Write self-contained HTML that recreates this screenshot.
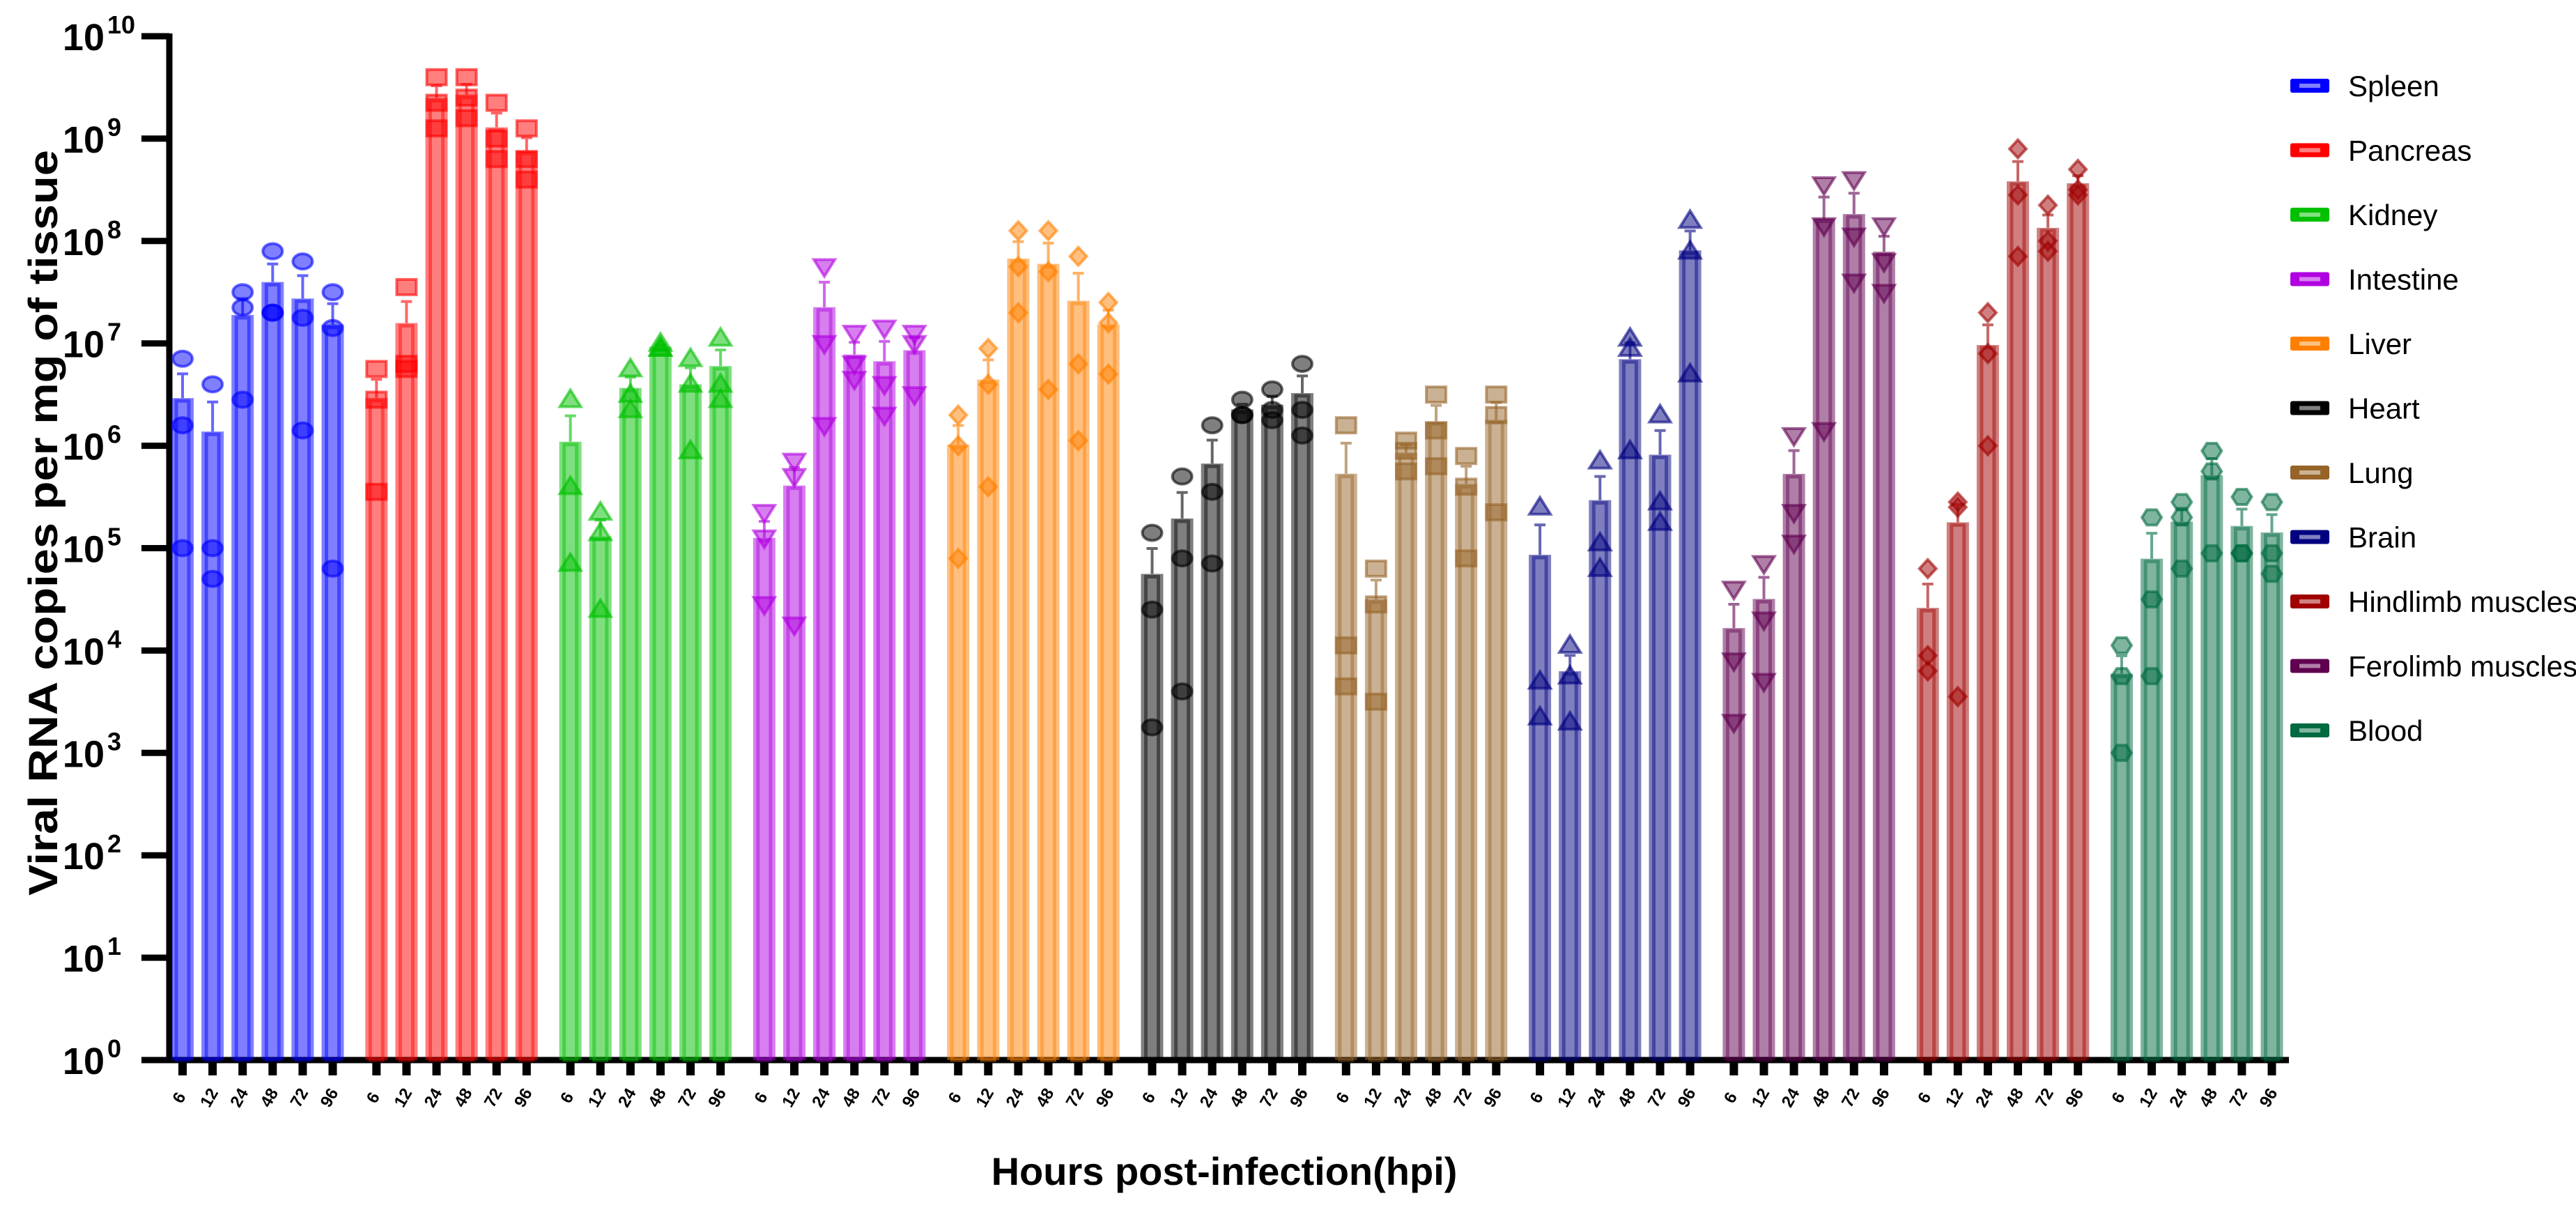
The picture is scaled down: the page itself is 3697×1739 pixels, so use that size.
<!DOCTYPE html>
<html><head><meta charset="utf-8"><style>
html,body{margin:0;padding:0;background:#fff;}
svg{display:block;font-family:"Liberation Sans",sans-serif;}
</style></head><body>
<svg id="chart" width="3697" height="1739" viewBox="0 0 3697 1739" xmlns="http://www.w3.org/2000/svg">
<g id="axes"></g>
<g id="bars"></g>
<g id="legend"></g>
<text x="1757" y="1700" text-anchor="middle" font-size="56" font-weight="bold">Hours post-infection(hpi)</text>
<text transform="translate(82,750) rotate(-90)" text-anchor="middle" font-size="58" font-weight="bold" textLength="1070" lengthAdjust="spacingAndGlyphs">Viral RNA copies per mg of tissue</text>
</svg>
<script>
const tissues = ["Spleen","Pancreas","Kidney","Intestine","Liver","Heart","Lung","Brain","Ferolimb muscles","Hindlimb muscles","Blood"];
const legendOrder = ["Spleen","Pancreas","Kidney","Intestine","Liver","Heart","Lung","Brain","Hindlimb muscles","Ferolimb muscles","Blood"];
const timepoints = ["6","12","24","48","72","96"];
const yTicks = [0,1,2,3,4,5,6,7,8,9,10];
// log10 values of the three replicate points per bar
const spleenPts = [[6.85,6.2,5.0],[6.6,5.0,4.7],[7.5,7.35,6.45],[7.9,7.3,7.3],[7.8,7.25,6.15],[7.5,7.15,4.8]];
const pancreasPts = [[6.75,6.45,5.55],[7.55,6.8,6.75],[9.6,9.35,9.1],[9.6,9.4,9.2],[9.35,9.0,8.8],[9.1,8.8,8.6]];
const kidneyPts = [[6.45,5.6,4.85],[5.35,5.15,4.4],[6.75,6.5,6.35],[7.0,6.95,6.95],[6.85,6.6,5.95],[7.05,6.6,6.45]];
const intestinePts = [[5.35,5.1,4.45],[5.85,5.7,4.25],[7.75,7.0,6.2],[7.1,6.8,6.65],[7.15,6.6,6.3],[7.1,7.0,6.5]];
const liverPts = [[6.3,6.0,4.9],[6.95,6.6,5.6],[8.1,7.75,7.3],[8.1,7.7,6.55],[7.85,6.8,6.05],[7.4,7.2,6.7]];
const heartPts = [[5.15,4.4,3.25],[5.7,4.9,3.6],[6.2,5.55,4.85],[6.45,6.3,6.3],[6.55,6.35,6.25],[6.8,6.35,6.1]];
const lungPts = [[6.2,4.05,3.65],[4.8,4.45,3.5],[6.05,5.95,5.75],[6.5,6.15,5.8],[5.9,5.6,4.9],[6.5,6.3,5.35]];
const brainPts = [[5.4,3.7,3.35],[4.05,3.75,3.3],[5.85,5.05,4.8],[7.05,6.95,5.95],[6.3,5.45,5.25],[8.2,7.9,6.7]];
const ferolimbPts = [[4.6,3.9,3.3],[4.85,4.3,3.7],[6.1,5.35,5.05],[8.55,8.15,6.15],[8.6,8.05,7.6],[8.15,7.8,7.5]];
const hindlimbPts = [[4.8,3.95,3.8],[5.45,5.4,3.55],[7.3,6.9,6.0],[8.9,8.45,7.85],[8.35,8.0,7.9],[8.7,8.5,8.45]];
const bloodPts = [[4.05,3.75,3.0],[5.3,4.5,3.75],[5.45,5.3,4.8],[5.95,5.75,4.95],[5.5,4.95,4.95],[5.45,4.95,4.75]];
const allPts = [spleenPts,pancreasPts,kidneyPts,intestinePts,liverPts,heartPts,lungPts,brainPts,ferolimbPts,hindlimbPts,bloodPts];

const colors = {"Spleen":"#0000ff","Pancreas":"#ff0000","Kidney":"#00c000","Intestine":"#b000e0","Liver":"#ff8000","Heart":"#000000","Lung":"#966428","Brain":"#000080","Hindlimb muscles":"#a00000","Ferolimb muscles":"#600050","Blood":"#006a40"};
const shapes = {"Spleen":"circle","Pancreas":"square","Kidney":"tri","Intestine":"tridown","Liver":"diamond","Heart":"ring","Lung":"sqring","Brain":"triring","Ferolimb muscles":"tridownring","Hindlimb muscles":"diamondring","Blood":"hex"};

const NS="http://www.w3.org/2000/svg";
const Y0=1521, Y10=52;
function y(v){return Y0-(v/10)*(Y0-Y10);}
function xc(g,i){return 262+g*278.3+i*43.1;}
function mk(tag,attrs,parent){const e=document.createElementNS(NS,tag);for(const k in attrs)e.setAttribute(k,attrs[k]);parent.appendChild(e);return e;}

const axes=document.getElementById('axes');
let yl=mk('line',{x1:243,y1:Y10-4,x2:243,y2:Y0+4,stroke:'#000','stroke-width':9},axes);


let xl=mk('line',{x1:239,y1:Y0,x2:3285,y2:Y0,stroke:'#000','stroke-width':9},axes);


yTicks.forEach(t=>{
  const yy=y(t);
  const tk=mk('line',{x1:203,y1:yy,x2:243,y2:yy,stroke:'#000','stroke-width':9},axes);
  
  
  const tx=mk('text',{x:150,y:yy+20,'text-anchor':'end','font-size':54,'font-weight':'bold'},axes);
  
  
  tx.textContent='10';
  const sp=mk('text',{x:154,y:yy-4,'font-size':36,'font-weight':'bold'},axes);
  
  
  sp.textContent=String(t);
});

function marker(shape,cx,cy,col,parent){
  let e;
  const base={fill:col,'fill-opacity':0.5,stroke:col,'stroke-opacity':0.6,'stroke-width':4};
  if(shape==='circle'||shape==='ring'){e=mk('ellipse',Object.assign({cx,cy,rx:14,ry:11},base),parent);}
  else if(shape==='square'||shape==='sqring'){e=mk('rect',Object.assign({x:cx-14,y:cy-11,width:28,height:22},base),parent);}
  else if(shape==='tri'||shape==='triring'){e=mk('polygon',Object.assign({points:`${cx},${cy-14} ${cx+15},${cy+10} ${cx-15},${cy+10}`},base),parent);}
  else if(shape==='tridown'||shape==='tridownring'){e=mk('polygon',Object.assign({points:`${cx},${cy+14} ${cx+15},${cy-10} ${cx-15},${cy-10}`},base),parent);}
  else if(shape==='diamond'||shape==='diamondring'){e=mk('polygon',Object.assign({points:`${cx},${cy-13} ${cx+12},${cy} ${cx},${cy+13} ${cx-12},${cy}`},base),parent);}
  else {e=mk('polygon',Object.assign({points:`${cx-14},${cy} ${cx-7},${cy-11} ${cx+7},${cy-11} ${cx+14},${cy} ${cx+7},${cy+11} ${cx-7},${cy+11}`},base),parent);}
  return e;
}

const bars=document.getElementById('bars');
tissues.forEach((tn,g)=>{
  const col=colors[tn];
  const grp=mk('g',{},bars);
  
  
  allPts[g].forEach((pts,i)=>{
    const lin=pts.map(p=>Math.pow(10,p));
    const m=lin.reduce((a,b)=>a+b,0)/lin.length;
    const sd=Math.sqrt(lin.reduce((a,b)=>a+(b-m)*(b-m),0)/(lin.length-1));
    const sem=sd/Math.sqrt(lin.length);
    const mv=Math.log10(m), ev=Math.log10(m+sem);
    const cx=xc(g,i), top=y(mv);
    const r=mk('rect',{x:cx-16,y:top,width:32,height:Y0-top,fill:col,'fill-opacity':0.5},grp);
    
    
    const r2=mk('rect',{x:cx-9,y:top+4,width:18,height:Y0-top-4,fill:'none',stroke:col,'stroke-opacity':0.45,'stroke-width':5},grp);
    
    
    const eb=mk('path',{d:`M${cx},${top} V${y(ev)} M${cx-8},${y(ev)} H${cx+8}`,stroke:col,'stroke-opacity':0.6,'stroke-width':4,fill:'none'},grp);
    
    
    pts.forEach(p=>{
      const mm=marker(shapes[tn],cx,y(p),col,grp);
      
      
    });
    const tk=mk('rect',{x:cx-6,y:Y0,width:12,height:22,fill:'#000'},axes);
    
    
    const lb=mk('text',{x:0,y:0,'font-size':24,'font-weight':'bold','text-anchor':'middle',transform:`translate(${cx+2},${Y0+58}) rotate(-60)`},axes);
    
    
    lb.textContent=timepoints[i];
  });
});

const legend=document.getElementById('legend');
legendOrder.forEach((tn,k)=>{
  const yy=123+k*92.5, col=colors[tn];
  const it=mk('g',{},legend);
  
  
  const sw=mk('rect',{x:3287,y:yy-10,width:56,height:20,rx:3,fill:col},it);
  
  
  const sw2=mk('rect',{x:3300,y:yy-3,width:30,height:6,fill:'#fff','fill-opacity':0.5},it);
  
  
  const tx=mk('text',{x:3370,y:yy+15,'font-size':42},it);
  
  
  tx.textContent=tn;
});
</script>
</body></html>
